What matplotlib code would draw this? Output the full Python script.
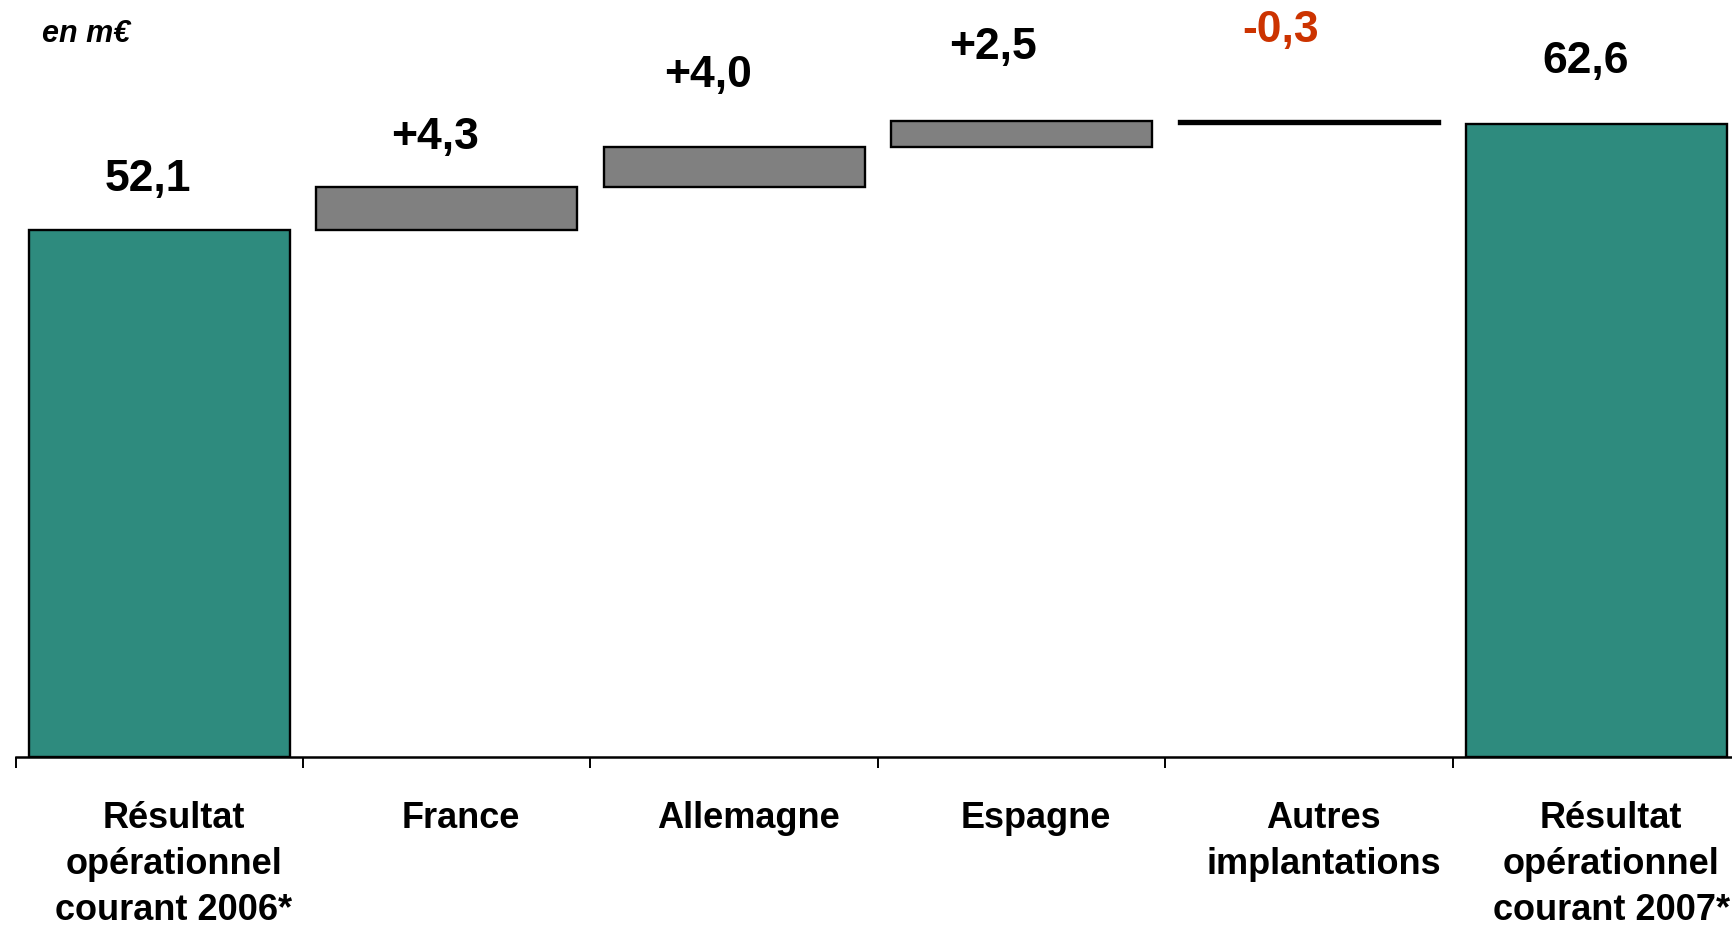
import numpy as np
import matplotlib.pyplot as plt

plt.rcParams['font.family'] = ['Liberation Sans', 'DejaVu Sans']

categories = ['Résultat\nopérationnel\ncourant 2006*', 'France', 'Allemagne',
              'Espagne', 'Autres\nimplantations', 'Résultat\nopérationnel\ncourant 2007*']
start_val = 52.1
deltas = [4.3, 4.0, 2.5, -0.3]
end_val = 62.6
value_labels = ['52,1', '+4,3', '+4,0', '+2,5', '-0,3', '62,6']

teal = '#2e8b7e'
grey = '#808080'
red = '#cc3300'

# bottoms / heights of the waterfall
bottoms = [0]
heights = [start_val]
running = start_val
for d in deltas:
    if d >= 0:
        bottoms.append(running)
        heights.append(d)
    else:
        bottoms.append(running + d)
        heights.append(-d)
    running += d
bottoms.append(0)
heights.append(end_val)
colors = [teal] + [grey if d >= 0 else 'black' for d in deltas] + [teal]

fig = plt.figure(figsize=(17.33, 9.26), dpi=100)
ax = fig.add_axes([15.5 / 1733, 0.1825, 1725 / 1733, 0.8175])

x = np.arange(len(categories))
ax.bar(x, heights, bottom=bottoms, width=0.908, color=colors,
       edgecolor='black', linewidth=1.7)

# labels above bars
label_dx = [-0.04, -0.04, -0.09, -0.1, -0.1, -0.04]
label_dy = [5.0, 4.9, 7.0, 7.3, 9.0, 6.2]
for i in range(len(categories)):
    top = bottoms[i] + heights[i]
    col = red if value_labels[i].startswith('-') else 'black'
    ax.text(i + label_dx[i], top + label_dy[i], value_labels[i], ha='center',
            va='center', fontsize=32, fontweight='bold', color=col)

ax.set_xlim(-0.5, 5.5)
ax.set_ylim(0, 74.9)
for s in ['left', 'right', 'top']:
    ax.spines[s].set_visible(False)
ax.spines['bottom'].set_linewidth(1.8)
ax.set_yticks([])

ax.set_xticks(x + 0.05)
ax.set_xticklabels(categories, fontsize=26, fontweight='bold', linespacing=1.4)
ax.tick_params(axis='x', which='major', length=0, pad=32)
ax.set_xticks(np.arange(-0.5, 6.0, 1.0), minor=True)
ax.tick_params(axis='x', which='minor', length=8, width=1.4, direction='out')

fig.text(42 / 1733, 1 - 34 / 926, 'en m€', fontsize=22, fontweight='bold',
         fontstyle='italic', va='center', ha='left')

fig.savefig('out.png', dpi=100)
